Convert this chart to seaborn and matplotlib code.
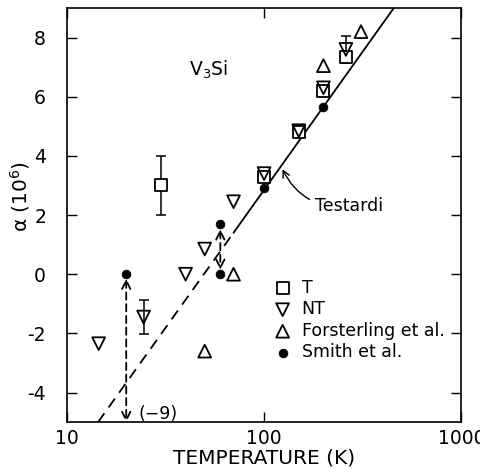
import numpy as np
import pandas as pd
import matplotlib
matplotlib.use("Agg")
import matplotlib.pyplot as plt
import seaborn as sns

# data
T_T = [30, 100, 150, 200, 260]
a_T = [3.0, 3.3, 4.8, 6.2, 7.35]

T_NT = [14.5, 24.5, 40, 50, 70, 100, 150, 200, 260]
a_NT = [-2.35, -1.45, 0.0, 0.85, 2.45, 3.4, 4.85, 6.3, 7.6]

T_F = [50, 70, 200, 310]
a_F = [-2.6, 0.0, 7.05, 8.2]

T_S = [20, 60, 60, 100, 200]
a_S = [0.0, 0.0, 1.7, 2.9, 5.65]

# error bars
err_T_x = [30]
err_T_y = [3.0]
err_T = [1.0]
err_NT_x = [24.5, 260]
err_NT_y = [-1.45, 7.6]
err_NT = [0.58, 0.45]

# Testardi line (dashed extrapolation below 70 K)
T_dash = [14.4, 70]
a_dash = [-5.0, 1.4]
T_solid = [70, 455]
a_solid = [1.4, 9.0]

xticks = [10, 100, 1000]
xticklabels = ["10", "100", "1000"]
yticks = [-4, -2, 0, 2, 4, 6, 8]

sns.set_style("ticks")
plt.rcParams['font.family'] = ['DejaVu Sans']
plt.rcParams['text.color'] = 'black'
plt.rcParams['axes.labelcolor'] = 'black'
plt.rcParams['axes.unicode_minus'] = False

fig = plt.figure(figsize=(4.81, 4.69), dpi=100)
ax = fig.add_axes([0.139, 0.100, 0.820, 0.883])

df_T = pd.DataFrame({"T": T_T, "a": a_T})
df_NT = pd.DataFrame({"T": T_NT, "a": a_NT})
df_F = pd.DataFrame({"T": T_F, "a": a_F})
df_S = pd.DataFrame({"T": T_S, "a": a_S})

sns.lineplot(x=T_dash, y=a_dash, ax=ax, color="black", lw=1.3,
             linestyle=(0, (6, 4)))
sns.lineplot(x=T_solid, y=a_solid, ax=ax, color="black", lw=1.3)

ax.errorbar(err_T_x, err_T_y, yerr=err_T, fmt="none", ecolor="black",
            elinewidth=1.1, capsize=3.5, capthick=1.1)
ax.errorbar(err_NT_x, err_NT_y, yerr=err_NT, fmt="none", ecolor="black",
            elinewidth=1.1, capsize=3.5, capthick=1.1)

sns.scatterplot(data=df_T, x="T", y="a", ax=ax, marker="s", s=65,
                facecolor="white", edgecolor="black", linewidth=1.3,
                label="T", zorder=3)
sns.scatterplot(data=df_NT, x="T", y="a", ax=ax, marker="v", s=85,
                facecolor="none", edgecolor="black", linewidth=1.3,
                label="NT", zorder=4)
sns.scatterplot(data=df_F, x="T", y="a", ax=ax, marker="^", s=85,
                facecolor="none", edgecolor="black", linewidth=1.3,
                label="Forsterling et al.", zorder=4)
sns.scatterplot(data=df_S, x="T", y="a", ax=ax, marker="o", s=40,
                color="black", edgecolor="black", linewidth=0.5,
                label="Smith et al.", zorder=5)

# dashed double arrows for Smith et al. points
arrow_kw = dict(arrowstyle="<->,head_length=0.5,head_width=0.25",
                color="black", lw=1.3, linestyle=(0, (4, 2.5)),
                shrinkA=0, shrinkB=0, mutation_scale=12)
ax.annotate("", xy=(20, -5.0), xytext=(20, -0.15), arrowprops=arrow_kw)
ax.annotate("", xy=(60, 0.15), xytext=(60, 1.52), arrowprops=arrow_kw)
ax.text(23, -4.72, "(\u22129)", fontsize=12.5, va="center", ha="left")

ax.annotate("Testardi", xy=(124, 3.55), xytext=(182, 2.3),
            fontsize=12.5, va="center", ha="left",
            arrowprops=dict(arrowstyle="->", color="black", lw=1.0,
                            connectionstyle="arc3,rad=-0.35",
                            shrinkA=2, shrinkB=0))

ax.text(41.4, 6.9, "V$_3$Si", fontsize=13.5, va="center", ha="left")

ax.set_xscale("log")
ax.set_xlim(10, 1000)
ax.set_ylim(-5, 9)
ax.set_xticks(xticks)
ax.set_xticklabels(xticklabels)
ax.xaxis.set_minor_locator(matplotlib.ticker.NullLocator())
ax.set_yticks(yticks)
ax.tick_params(direction="in", top=True, right=True, length=7, width=1.0,
               labelsize=13.5, colors="black")
ax.tick_params(axis="x", pad=5)
ax.tick_params(axis="y", pad=15)
for sp in ax.spines.values():
    sp.set_linewidth(1.2)
    sp.set_color("black")

ax.set_xlabel("TEMPERATURE (K)", fontsize=14.5, labelpad=0)
ax.set_ylabel("α (10$^6$)", fontsize=14.5)
ax.yaxis.set_label_coords(-0.088, 0.544)

leg = ax.legend(loc="upper left", bbox_to_anchor=(0.525, 0.346),
                frameon=False, fontsize=12.5, handlelength=1.0,
                handletextpad=0.6, labelspacing=0.2, borderpad=0,
                borderaxespad=0)

fig.savefig("out.png", dpi=100)
